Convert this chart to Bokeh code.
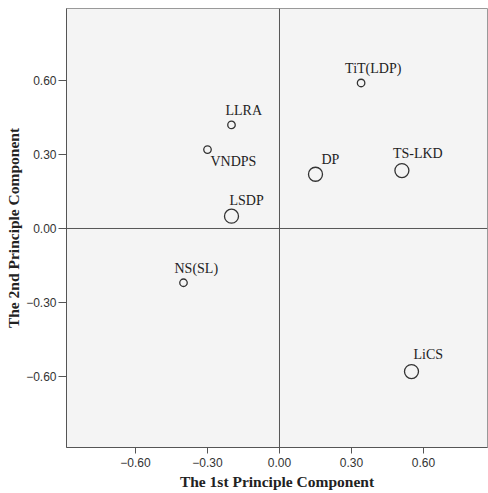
from bokeh.plotting import figure
from bokeh.models import ColumnDataSource, FixedTicker, Span
from bokeh.core.properties import value
from bokeh.embed import file_html
from bokeh.resources import INLINE

# ---- data ----
labels = ["TiT(LDP)", "LLRA", "VNDPS", "DP", "TS-LKD", "LSDP", "NS(SL)", "LiCS"]
pc1 = [0.34, -0.20, -0.30, 0.15, 0.51, -0.20, -0.40, 0.55]
pc2 = [0.59, 0.42, 0.32, 0.22, 0.235, 0.05, -0.22, -0.58]
group = ["small", "small", "small", "large", "large", "large", "small", "large"]
tick_values = [-0.60, -0.30, 0.00, 0.30, 0.60]
tick_labels = ["\u22120.60", "\u22120.30", "0.00", "0.30", "0.60"]

# ---- style ----
size_map = {"small": 7.5, "large": 14}
label_dx = [-16, -6, 3, 6, -9, -2, -9, 2]
label_dy = [-14, -14, 12, -15, -17, -16, -14, -17]

src = ColumnDataSource(dict(
    x=pc1, y=pc2, name=labels,
    size=[size_map[g] for g in group],
    dx=label_dx, dy=label_dy,
))

p = figure(width=488, height=493, output_backend="svg", toolbar_location=None,
           x_range=(-0.8875, 0.8667), y_range=(-0.888, 0.892),
           min_border_left=66, min_border_right=1, min_border_top=8, min_border_bottom=46)

p.background_fill_color = "#f4f4f4"
p.border_fill_color = "white"
p.outline_line_color = "#999999"
p.xgrid.visible = False
p.ygrid.visible = False

p.add_layout(Span(location=0, dimension="height", line_color="#555555", line_width=1))
p.add_layout(Span(location=0, dimension="width", line_color="#555555", line_width=1))

p.scatter("x", "y", source=src, size="size", fill_color=None,
          line_color="#333333", line_width=1.3)
p.text("x", "y", text="name", source=src, x_offset="dx", y_offset="dy",
       text_font=value("Liberation Serif"), text_font_size="14px",
       text_color="#222222", text_align="left", text_baseline="middle")

for ax in (p.xaxis, p.yaxis):
    ax.ticker = FixedTicker(ticks=tick_values)
    ax.major_label_overrides = {v: l for v, l in zip(tick_values, tick_labels)}
    ax.minor_tick_line_color = None
    ax.major_tick_in = 0
    ax.major_tick_line_color = "#555555"
    ax.axis_line_color = "#555555"
    ax.major_label_text_font = "Liberation Sans"
    ax.major_label_text_font_size = "12px"
    ax.major_label_text_color = "#333333"
    ax.axis_label_text_font = "Liberation Serif"
    ax.axis_label_text_font_style = "bold"
    ax.axis_label_text_font_size = "15.5px"
    ax.axis_label_text_color = "#222222"

p.xaxis.major_tick_out = 6
p.yaxis.major_tick_out = 8
p.xaxis.major_label_standoff = 4
p.yaxis.major_label_standoff = 2
p.xaxis.axis_label = "The 1st Principle Component"
p.yaxis.axis_label = "The 2nd Principle Component"
p.xaxis.axis_label_standoff = 3
p.yaxis.axis_label_standoff = 1

open("out.html", "w").write(file_html(p, INLINE))
